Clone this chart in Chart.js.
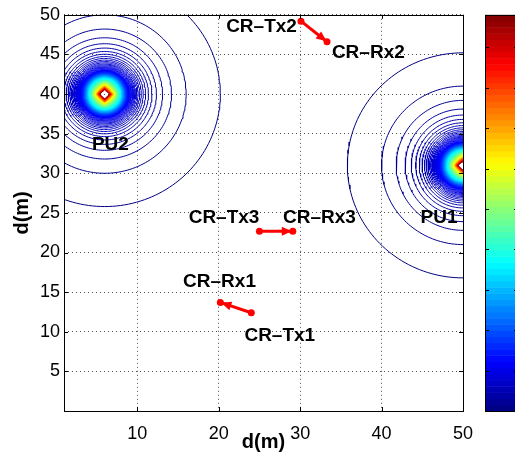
<!DOCTYPE html>
<html>
<head>
<meta charset="utf-8">
<script src="https://cdn.jsdelivr.net/npm/chart.js@4.4.1/dist/chart.umd.min.js"></script>
<style>
  html, body { margin: 0; padding: 0; background: #fff; }
</style>
</head>
<body>
<canvas id="contourChart" width="515" height="460"></canvas>
<script>
// axis ticks
const xTicks = [10, 20, 30, 40, 50];
const yTicks = [5, 10, 15, 20, 25, 30, 35, 40, 45, 50];

// primary users (contour centres)
const puNames = ['PU1', 'PU2'];
const puX = [50, 6];
const puY = [31, 40];

// contour rings around each PU: radius (m) and colour level (0..1 of colorbar)
const contourRadius = [14.2, 10.0, 8.2, 7.1, 6.35, 5.8, 5.37, 5.02, 4.73, 4.49,
  4.28, 4.1, 3.94, 3.79, 3.67, 3.55, 3.44, 3.35, 3.26, 3.18,
  3.1, 3.03, 2.96, 2.9, 2.84, 2.78, 2.72, 2.66, 2.6, 2.54,
  2.48, 2.42, 2.36, 2.3, 2.24, 2.18, 2.12, 2.06, 2.0, 1.95,
  1.9, 1.85, 1.8, 1.75, 1.7, 1.65, 1.6, 1.55, 1.5, 1.45,
  1.4, 1.35, 1.3, 1.25, 1.21, 1.17, 1.13, 1.09, 1.05, 1.01,
  0.97, 0.93, 0.9, 0.87, 0.84, 0.81, 0.78, 0.75, 0.72, 0.69];
const contourLevel = [0.0, 0.01, 0.02, 0.03, 0.035, 0.04, 0.045, 0.05, 0.055, 0.06,
  0.065, 0.07, 0.075, 0.08, 0.085, 0.09, 0.095, 0.1, 0.105, 0.11,
  0.115, 0.12, 0.13, 0.14, 0.15, 0.16, 0.17, 0.185, 0.2, 0.215,
  0.23, 0.25, 0.27, 0.28, 0.3, 0.32, 0.34, 0.36, 0.375, 0.39,
  0.405, 0.42, 0.435, 0.45, 0.47, 0.485, 0.5, 0.52, 0.535, 0.55,
  0.57, 0.59, 0.605, 0.625, 0.65, 0.675, 0.7, 0.73, 0.76, 0.79,
  0.82, 0.85, 0.875, 0.9, 0.92, 0.94, 0.96, 0.975, 0.99, 1.0];

// CR links: transmitter -> receiver
const txX = [24.0, 30.1, 25.0];
const txY = [12.4, 49.2, 22.7];
const rxX = [20.2, 33.3, 29.1];
const rxY = [13.7, 46.6, 22.7];

// text labels in the plot
const labelText = ['CR\u2013Tx1', 'CR\u2013Rx1', 'CR\u2013Tx2', 'CR\u2013Rx2', 'CR\u2013Tx3', 'CR\u2013Rx3', 'PU1', 'PU2'];
const labelX = [27.5, 20.1, 29.6, 33.9, 25.0, 27.9, 47.05, 6.7];
const labelY = [9.5, 16.25, 48.5, 45.25, 24.4, 24.4, 24.4, 33.6];
const labelAlign = ['center', 'center', 'right', 'left', 'right', 'left', 'center', 'center'];

// MATLAB-like jet colormap
function jet(t) {
  const c = v => Math.round(255 * Math.max(0, Math.min(1, v)));
  const r = c(Math.min(4 * t - 1.5, -4 * t + 4.5));
  const g = c(Math.min(4 * t - 0.5, -4 * t + 3.5));
  const b = c(Math.min(4 * t + 0.5, -4 * t + 2.5));
  return `rgb(${r},${g},${b})`;
}

// one closed ring; near the centre it turns into the grid diamond
function ringPoints(cx, cy, r) {
  const p = Math.min(2, Math.max(1, 1 + (r - 0.9) / 1.3));
  const n = r > 3 ? 180 : 100;
  const pts = [];
  for (let k = 0; k <= n; k++) {
    const a = (k / n) * 2 * Math.PI;
    const c = Math.cos(a), s = Math.sin(a);
    pts.push({
      x: cx + r * Math.sign(c) * Math.pow(Math.abs(c), 2 / p),
      y: cy + r * Math.sign(s) * Math.pow(Math.abs(s), 2 / p)
    });
  }
  return pts;
}

const datasets = [];

puX.forEach((cx, i) => {
  contourRadius.forEach((r, j) => {
    datasets.push({
      label: puNames[i] + ' contour ' + j,
      data: ringPoints(cx, puY[i], r),
      showLine: true,
      borderColor: jet(contourLevel[j]),
      borderWidth: r > 3 ? 1 : 1.3,
      pointRadius: 0,
      tension: 0,
      clip: 0,
      order: 2
    });
  });
});

txX.forEach((x, i) => {
  datasets.push({
    label: 'CR link ' + (i + 1),
    data: [{ x: x, y: txY[i] }, { x: rxX[i], y: rxY[i] }],
    showLine: true,
    borderColor: '#ff0000',
    borderWidth: 3,
    pointRadius: 3.5,
    pointBackgroundColor: '#ff0000',
    pointBorderWidth: 0,
    clip: false,
    order: 0
  });
});

// arrow heads at the receiver end
const arrowHeads = {
  id: 'arrowHeads',
  afterDatasetsDraw(chart) {
    const { ctx, scales: { x, y } } = chart;
    ctx.save();
    ctx.fillStyle = '#ff0000';
    for (let i = 0; i < txX.length; i++) {
      const x0 = x.getPixelForValue(txX[i]), y0 = y.getPixelForValue(txY[i]);
      const x1 = x.getPixelForValue(rxX[i]), y1 = y.getPixelForValue(rxY[i]);
      const ang = Math.atan2(y1 - y0, x1 - x0);
      ctx.save();
      ctx.translate(x1, y1);
      ctx.rotate(ang);
      ctx.beginPath();
      ctx.moveTo(-1, 0);
      ctx.lineTo(-11, -4.5);
      ctx.lineTo(-11, 4.5);
      ctx.closePath();
      ctx.fill();
      ctx.restore();
    }
    ctx.restore();
  }
};

// text labels
const plotLabels = {
  id: 'plotLabels',
  afterDatasetsDraw(chart) {
    const { ctx, scales: { x, y } } = chart;
    ctx.save();
    ctx.fillStyle = '#000';
    ctx.font = 'bold 19px "Liberation Sans", Arial, sans-serif';
    ctx.textBaseline = 'middle';
    labelText.forEach((t, i) => {
      ctx.textAlign = labelAlign[i];
      ctx.fillText(t, x.getPixelForValue(labelX[i]), y.getPixelForValue(labelY[i]));
    });
    ctx.restore();
  }
};

// box, inward ticks and the colorbar
const frameAndColorbar = {
  id: 'frameAndColorbar',
  afterDraw(chart) {
    const { ctx, chartArea: a, scales: { x, y } } = chart;
    ctx.save();
    ctx.strokeStyle = '#000';
    ctx.lineWidth = 1;
    ctx.beginPath();
    xTicks.forEach(v => {
      const px = Math.round(x.getPixelForValue(v)) + 0.5;
      ctx.moveTo(px, a.bottom); ctx.lineTo(px, a.bottom - 4);
      ctx.moveTo(px, a.top); ctx.lineTo(px, a.top + 4);
    });
    yTicks.forEach(v => {
      const py = Math.round(y.getPixelForValue(v)) + 0.5;
      ctx.moveTo(a.left, py); ctx.lineTo(a.left + 4, py);
      ctx.moveTo(a.right, py); ctx.lineTo(a.right - 4, py);
    });
    ctx.stroke();
    ctx.strokeRect(Math.round(a.left) + 0.5, Math.round(a.top) + 0.5,
      Math.round(a.right - a.left), Math.round(a.bottom - a.top));

    // colorbar
    const cbL = 485, cbR = 518, cbT = a.top, cbB = a.bottom;
    const n = 64, h = (cbB - cbT) / n;
    for (let i = 0; i < n; i++) {
      ctx.fillStyle = jet((i + 0.5) / n);
      ctx.fillRect(cbL, cbB - (i + 1) * h, cbR - cbL, h + 0.5);
    }
    ctx.strokeRect(cbL + 0.5, Math.round(cbT) + 0.5, cbR - cbL, Math.round(cbB - cbT));
    ctx.beginPath();
    for (let k = 1; k <= 9; k++) {
      const py = Math.round(cbB - k * 40.4) + 0.5;
      ctx.moveTo(cbL, py); ctx.lineTo(cbL + 4, py);
      ctx.moveTo(cbR, py); ctx.lineTo(cbR - 4, py);
    }
    ctx.stroke();
    ctx.restore();
  }
};

Chart.defaults.font.family = '"Liberation Sans", Arial, sans-serif';
Chart.defaults.color = '#000';

new Chart(document.getElementById('contourChart'), {
  type: 'scatter',
  data: { datasets: datasets },
  options: {
    responsive: false,
    animation: false,
    devicePixelRatio: 1,
    layout: { padding: { top: 11, right: 52, bottom: 0, left: 0 } },
    plugins: {
      legend: { display: false },
      tooltip: { enabled: false }
    },
    scales: {
      x: {
        type: 'linear',
        min: 1,
        max: 50,
        afterBuildTicks: s => { s.ticks = xTicks.map(v => ({ value: v })); },
        afterFit: s => { s.height = 49; },
        grid: { color: 'rgba(0,0,0,0.7)', lineWidth: 1, drawTicks: false },
        border: { display: false, dash: [1, 3] },
        ticks: { padding: 12, font: { size: 18 }, maxRotation: 0 },
        title: { display: true, text: 'd(m)', font: { size: 20, weight: 'bold' }, padding: { top: 0, bottom: 6 } }
      },
      y: {
        type: 'linear',
        min: 0,
        max: 50,
        afterBuildTicks: s => { s.ticks = yTicks.map(v => ({ value: v })); },
        afterFit: s => { s.width = 64; },
        grid: { color: 'rgba(0,0,0,0.7)', lineWidth: 1, drawTicks: false },
        border: { display: false, dash: [1, 3] },
        ticks: { padding: 4, font: { size: 18 } },
        title: { display: true, text: 'd(m)', font: { size: 20, weight: 'bold' }, padding: { top: 10, bottom: 0 } }
      }
    }
  },
  plugins: [arrowHeads, plotLabels, frameAndColorbar]
});
</script>
</body>
</html>
